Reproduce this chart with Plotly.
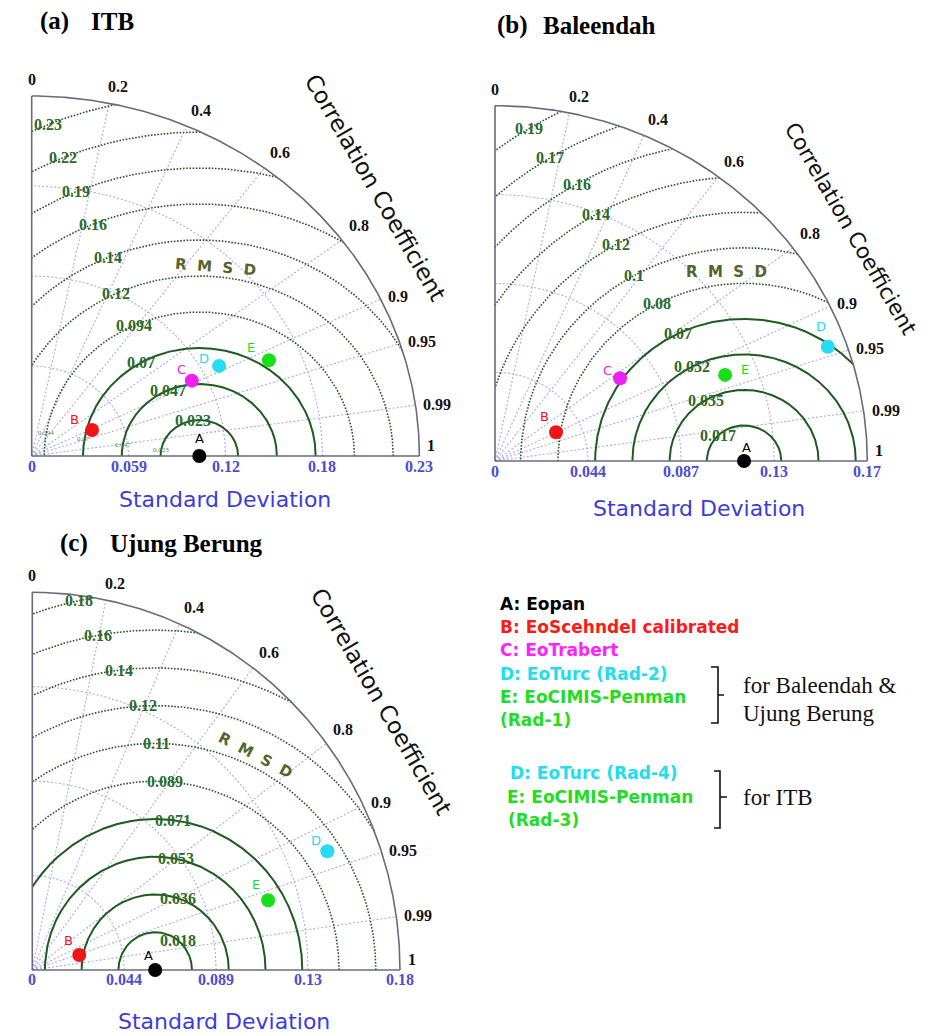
import numpy as np
import plotly.graph_objects as go

W, H = 926, 1036

# ======================= DATA =======================
letters = ["A", "B", "C", "D", "E"]

# (a) ITB
itb_sd = [0.1016, 0.0403, 0.1088, 0.1279, 0.1568]
itb_corr = [1.000, 0.907, 0.892, 0.888, 0.917]
itb_sd_max = 0.235
itb_sd_ticks = ["0", "0.059", "0.12", "0.18", "0.23"]
itb_rmsd = [0.0235, 0.047, 0.0705, 0.094, 0.1175, 0.141, 0.1645, 0.188, 0.2115, 0.235]
itb_rmsd_labels = ["0.023", "0.047", "0.07", "0.094", "0.12", "0.14", "0.16", "0.19", "0.22", "0.23"]

# (b) Baleendah
bal_sd = [0.1164, 0.0318, 0.0711, 0.1653, 0.1155]
bal_corr = [1.000, 0.897, 0.822, 0.941, 0.931]
bal_sd_max = 0.174
bal_sd_ticks = ["0", "0.044", "0.087", "0.13", "0.17"]
bal_rmsd = [0.0174, 0.0348, 0.0522, 0.0696, 0.087, 0.1044, 0.1218, 0.1392, 0.1566, 0.174, 0.1914]
bal_rmsd_labels = ["0.017", "0.035", "0.052", "0.07", "0.08", "0.1", "0.12", "0.14", "0.16", "0.17", "0.19"]

# (c) Ujung Berung (no C)
ujb_sd = [0.0595, 0.0238, None, 0.1534, 0.1188]
ujb_corr = [1.000, 0.955, None, 0.931, 0.961]
ujb_sd_max = 0.178
ujb_sd_ticks = ["0", "0.044", "0.089", "0.13", "0.18"]
ujb_rmsd = [0.0178, 0.0356, 0.0534, 0.0712, 0.089, 0.1068, 0.1246, 0.1424, 0.1602, 0.178]
ujb_rmsd_labels = ["0.018", "0.036", "0.053", "0.071", "0.089", "0.11", "0.12", "0.14", "0.16", "0.18"]

corr_ticks = [0, 0.2, 0.4, 0.6, 0.8, 0.9, 0.95, 0.99, 1]
corr_tick_labels = ["0", "0.2", "0.4", "0.6", "0.8", "0.9", "0.95", "0.99", "1"]

legend_group1 = ["A: Eopan", "B: EoScehndel calibrated", "C: EoTrabert",
                 "D: EoTurc (Rad-2)", "E: EoCIMIS-Penman", "(Rad-1)"]
legend_group2 = ["D: EoTurc (Rad-4)", "E: EoCIMIS-Penman", "(Rad-3)"]
bracket1_text = ["for Baleendah &", "Ujung Berung"]
bracket2_text = ["for ITB"]

# ======================= STYLE =======================
pt_colors = ["#000000", "#f01515", "#f020f0", "#25dcf0", "#18e018"]
leg1_colors = ["#000000", "#ff1a1a", "#ff22ff", "#22ddee", "#22dd22", "#22dd22"]
leg2_colors = ["#22ddee", "#22dd22", "#22dd22"]
SERIF = "Liberation Serif"
SANS = "DejaVu Sans"
GREEN = "#2b6a2b"
CONT_SOLID = "#1f5a1f"
CONT_DOT = "#2a552a"
GRID = "#ababe6"
AXIS = "#6a6a7c"
SDBLUE = "#4c4cd4"
TITLEBLUE = "#3c3cdc"

panels = [
    dict(tag="(a)", name="ITB", sd=itb_sd, corr=itb_corr, M=itb_sd_max,
         sdt=itb_sd_ticks, lv=itb_rmsd, lvl=itb_rmsd_labels),
    dict(tag="(b)", name="Baleendah", sd=bal_sd, corr=bal_corr, M=bal_sd_max,
         sdt=bal_sd_ticks, lv=bal_rmsd, lvl=bal_rmsd_labels),
    dict(tag="(c)", name="Ujung Berung", sd=ujb_sd, corr=ujb_corr, M=ujb_sd_max,
         sdt=ujb_sd_ticks, lv=ujb_rmsd, lvl=ujb_rmsd_labels),
]

styles = [
    dict(origin=(31.7, 456), hr=387.7, vr=360.0, n_solid=3,
         lab_ang=[100, 114, 120, 115, 115.6, 113, 113, 113.5, 113, 113],
         let_off=[(0, -18), (-18, -11), (-10, -11), (-15, -7), (-18, -13)],
         rmsd_word=(215, 267, 4.5), cc=(375, 187, 60, 23), sd_title=(225, 500),
         title=(38, 89, 21, 25)),
    dict(origin=(495.0, 461), hr=372.3, vr=355.3, n_solid=4,
         lab_ang=[135, 121, 118, 116.5, 117.8, 119.6, 119.4, 119.8, 120, 121.4, 121.6],
         let_off=[(2, -14), (-12, -16), (-13, -8), (-7, -20), (20, -5)],
         rmsd_word=(726, 272, 0), cc=(851, 228, 60, 21.5), sd_title=(699, 508),
         title=(495, 541, 25, 25)),
    dict(origin=(32.3, 970), hr=367.7, vr=377.7, n_solid=4,
         lab_ang=[52, 72, 79, 83, 86.8, 89.7, 92.7, 97, 100, 102],
         let_off=[(-7, -14), (-11, -15), (0, 0), (-11, -11), (-12, -16)],
         rmsd_word=(255, 755, 27.7), cc=(381, 701, 60, 23), sd_title=(224, 1021),
         title=(58, 108, 543, 25)),
]

PAD = 0.06


def px(x):
    return x / W


def py(y):
    return 1 - y / H


def ptext(x, y, text, font, xanchor="center", yanchor="middle", angle=0):
    return dict(x=px(x), y=py(y), xref="paper", yref="paper", text=text,
                showarrow=False, xanchor=xanchor, yanchor=yanchor,
                textangle=angle, font=font)


fig = go.Figure()
annotations = []
layout_axes = {}

for i, (p, s) in enumerate(zip(panels, styles)):
    idx = "" if i == 0 else str(i + 1)
    xa, ya = "x" + idx, "y" + idx
    M = p["M"]
    ox, oy = s["origin"]
    hr, vr = s["hr"], s["vr"]
    layout_axes["xaxis" + idx] = dict(
        domain=[px(ox - PAD * hr), px(ox + (1 + PAD) * hr)],
        range=[-PAD * M, (1 + PAD) * M], visible=False, fixedrange=True,
        anchor=ya)
    layout_axes["yaxis" + idx] = dict(
        domain=[py(oy + PAD * vr), py(oy - (1 + PAD) * vr)],
        range=[-PAD * M, (1 + PAD) * M], visible=False, fixedrange=True,
        anchor=xa)

    def line(x, y, color, width, dash="solid"):
        fig.add_trace(go.Scatter(x=x, y=y, mode="lines", xaxis=xa, yaxis=ya,
                                 line=dict(color=color, width=width, dash=dash),
                                 hoverinfo="skip", showlegend=False))

    th = np.linspace(0, np.pi / 2, 400)
    # SD dotted arcs
    for k in (1, 2, 3):
        rr = M * k / 4
        line(rr * np.cos(th), rr * np.sin(th), GRID, 1.1, "2px,2px")
    # radial correlation lines
    for R in corr_ticks[1:-1]:
        a = np.arccos(R)
        line([0, M * np.cos(a)], [0, M * np.sin(a)], GRID, 1.1, "2px,2px")

    # RMSD contours centred on reference point A
    sdA = p["sd"][0]
    phi = np.linspace(0, np.pi, 2500)
    for k, (lv, lab) in enumerate(zip(p["lv"], p["lvl"])):
        x = sdA + lv * np.cos(phi)
        y = lv * np.sin(phi)
        m = (x >= 0) & (x ** 2 + y ** 2 <= M ** 2)
        if k < s["n_solid"]:
            line(x[m], y[m], CONT_SOLID, 2.0)
        else:
            line(x[m], y[m], CONT_DOT, 1.6, "1.6px,1.6px")
        ang = np.radians(s["lab_ang"][k])
        annotations.append(dict(
            x=sdA + lv * np.cos(ang), y=lv * np.sin(ang), xref=xa, yref=ya,
            text=lab, showarrow=False, xanchor="center", yanchor="middle",
            font=dict(family=SERIF, size=16, color=GREEN, weight="bold")))

    # axes frame
    line([0, 0], [0, M], AXIS, 1.6)
    line([0, M], [0, 0], AXIS, 1.6)
    line(M * np.cos(th), M * np.sin(th), AXIS, 1.6)

    # points
    xs, ys, cs, ls, offs = [], [], [], [], []
    for j, (sd, R) in enumerate(zip(p["sd"], p["corr"])):
        if sd is None:
            continue
        a = np.arccos(R)
        xs.append(sd * np.cos(a))
        ys.append(sd * np.sin(a))
        cs.append(pt_colors[j])
        ls.append(letters[j])
        offs.append(s["let_off"][j])
    fig.add_trace(go.Scatter(x=xs, y=ys, mode="markers", xaxis=xa, yaxis=ya,
                             marker=dict(color=cs, size=14, line=dict(width=0)),
                             cliponaxis=False, hoverinfo="skip", showlegend=False))
    for xv, yv, c, l, (dx, dy) in zip(xs, ys, cs, ls, offs):
        annotations.append(dict(x=xv, y=yv, xref=xa, yref=ya, text=l, showarrow=False,
                                xanchor="center", yanchor="middle",
                                xshift=dx, yshift=-dy, font=dict(family=SANS, size=13, color=c)))

    # SD tick labels
    for k, lab in enumerate(p["sdt"]):
        annotations.append(dict(x=M * k / 4, y=0, xref=xa, yref=ya, text=lab,
                                showarrow=False, xanchor="center", yanchor="middle",
                                yshift=-10,
                                font=dict(family=SERIF, size=16, color=SDBLUE, weight="bold")))

    # correlation labels
    for R, lab in zip(corr_ticks, corr_tick_labels):
        a = np.arccos(R)
        c, sn = np.cos(a), np.sin(a)
        xsft, ysft = 6 * c, 6 * sn
        if R == 0:
            xan, yan = "center", "bottom"
        elif c < 0.3:
            xan, yan = "center", "bottom"
            xsft += 8
        else:
            xan = "left"
            yan = "bottom" if sn > 0.5 else "middle"
        if R == 1:
            yan = "bottom"
        annotations.append(dict(x=M * c, y=M * sn, xref=xa, yref=ya, text=lab,
                                showarrow=False, xanchor=xan, yanchor=yan,
                                xshift=xsft, yshift=ysft,
                                font=dict(family=SERIF, size=16, color="#111111", weight="bold")))

    rx, ry, rang = s["rmsd_word"]
    annotations.append(ptext(rx, ry, "R  M  S  D",
                             dict(family=SANS, size=15, color="#55652a", weight="bold"), angle=rang))
    cx, cy, cang, csize = s["cc"]
    annotations.append(ptext(cx, cy, "Correlation Coefficient",
                             dict(family=SANS, size=csize, color="#111111"), angle=cang))
    sx, sy = s["sd_title"]
    annotations.append(ptext(sx, sy, "Standard Deviation",
                             dict(family=SANS, size=22, color=TITLEBLUE)))
    tx1, tx2, tyy, tsize = s["title"]
    for tx, txt in ((tx1, p["tag"]), (tx2, p["name"])):
        annotations.append(ptext(tx, tyy, txt,
                                 dict(family=SERIF, size=tsize, color="#000000", weight="bold"),
                                 xanchor="left"))

# tiny labels near origin of panel (a)
for txt, tx, ty in (("0.094", 46, 433), ("0.07", 83, 439), ("0.047", 123, 445), ("0.023", 161, 450)):
    annotations.append(ptext(tx, ty, txt, dict(family=SERIF, size=7, color="#5a8a5a")))

# legend
leg1_y = [604, 627, 650, 674, 697, 720]
for txt, col, yy in zip(legend_group1, leg1_colors, leg1_y):
    annotations.append(ptext(498, yy, txt, dict(family=SANS, size=17, color=col, weight="bold"),
                             xanchor="left"))
leg2_x = [508, 505, 506]
leg2_y = [773, 797, 820]
for txt, col, xx, yy in zip(legend_group2, leg2_colors, leg2_x, leg2_y):
    annotations.append(ptext(xx, yy, txt, dict(family=SANS, size=17, color=col, weight="bold"),
                             xanchor="left"))
for txt, yy in zip(bracket1_text, [685, 713]):
    annotations.append(ptext(741, yy, txt, dict(family=SERIF, size=23, color="#111111"),
                             xanchor="left"))
for txt, yy in zip(bracket2_text, [797]):
    annotations.append(ptext(741, yy, txt, dict(family=SERIF, size=23, color="#111111"),
                             xanchor="left"))


def bracket(x0, x1, xt, y0, y1, ym):
    return dict(type="path", xref="paper", yref="paper",
                path=(f"M {px(x0)} {py(y0)} L {px(x1)} {py(y0)} L {px(x1)} {py(y1)} "
                      f"L {px(x0)} {py(y1)} M {px(x1)} {py(ym)} L {px(xt)} {py(ym)}"),
                line=dict(color="#111111", width=1.6))


shapes = [bracket(711, 718, 724, 667, 723, 695), bracket(714, 720, 727, 771, 828, 797)]

fig.update_layout(
    width=W, height=H, margin=dict(l=0, r=0, t=0, b=0),
    paper_bgcolor="white", plot_bgcolor="white", showlegend=False,
    annotations=annotations, shapes=shapes, **layout_axes)

fig.write_html("out.html")
